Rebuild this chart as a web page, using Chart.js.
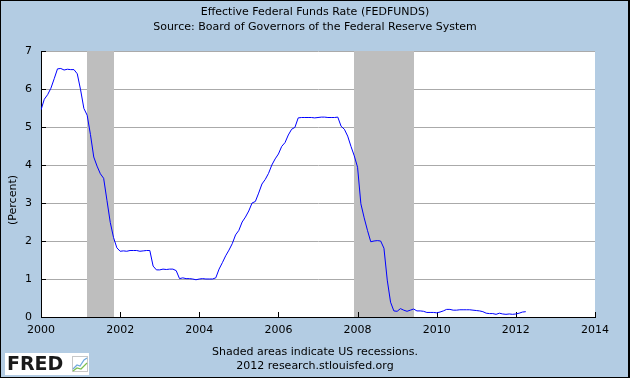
<!DOCTYPE html>
<html>
<head>
<meta charset="utf-8">
<script src="https://cdn.jsdelivr.net/npm/chart.js@4"></script>
<style>
  html, body { margin: 0; padding: 0; background: #b3cce3; }
  #wrap { width: 630px; height: 378px; }
</style>
</head>
<body>
<div id="wrap"><canvas id="myChart" width="630" height="378"></canvas></div>
<script>
// monthly effective fed funds rate, Jan 2000 .. Apr 2012
const startYear = 2000;
const fedFunds = [
  5.45, 5.73, 5.85, 6.02, 6.27, 6.53, 6.54, 6.50, 6.52, 6.51, 6.51, 6.40,
  5.98, 5.49, 5.31, 4.80, 4.21, 3.97, 3.77, 3.65, 3.07, 2.49, 2.09, 1.82,
  1.73, 1.74, 1.73, 1.75, 1.75, 1.75, 1.73, 1.74, 1.75, 1.75, 1.34, 1.24,
  1.24, 1.26, 1.25, 1.26, 1.26, 1.22, 1.01, 1.03, 1.01, 1.01, 1.00, 0.98,
  1.00, 1.01, 1.00, 1.00, 1.00, 1.03, 1.26, 1.43, 1.61, 1.76, 1.93, 2.16,
  2.28, 2.50, 2.63, 2.79, 3.00, 3.04, 3.26, 3.50, 3.62, 3.78, 4.00, 4.16,
  4.29, 4.49, 4.59, 4.79, 4.94, 4.99, 5.24, 5.25, 5.25, 5.25, 5.25, 5.24,
  5.25, 5.26, 5.26, 5.25, 5.25, 5.25, 5.26, 5.02, 4.94, 4.76, 4.49, 4.24,
  3.94, 2.98, 2.61, 2.28, 1.98, 2.00, 2.01, 2.00, 1.81, 0.97, 0.39, 0.16,
  0.15, 0.22, 0.18, 0.15, 0.18, 0.21, 0.16, 0.16, 0.15, 0.12, 0.12, 0.12,
  0.11, 0.13, 0.16, 0.20, 0.20, 0.18, 0.18, 0.19, 0.19, 0.19, 0.19, 0.18,
  0.17, 0.16, 0.14, 0.10, 0.09, 0.09, 0.07, 0.10, 0.08, 0.07, 0.08, 0.07,
  0.08, 0.10, 0.13, 0.14
];
// recessions as [start, end] in decimal years
const recessions = [[2001 + 2/12, 2001 + 10/12], [2007 + 11/12, 2009 + 5/12]];
const xTicks = [2000, 2002, 2004, 2006, 2008, 2010, 2012, 2014];
const yTicks = [0, 1, 2, 3, 4, 5, 6, 7];
const titleLines = ['Effective Federal Funds Rate (FEDFUNDS)', 'Source: Board of Governors of the Federal Reserve System'];
const footLines = ['Shaded areas indicate US recessions.', '2012 research.stlouisfed.org'];

const points = fedFunds.map((v, i) => ({ x: startYear + i / 12, y: v }));
const FONT = '"DejaVu Sans", sans-serif';

const fredDeco = {
  id: 'fredDeco',
  beforeDraw(chart) {
    const c = chart.ctx;
    c.save();
    c.fillStyle = '#b3cce3';
    c.fillRect(0, 0, chart.width, chart.height);
    const a = chart.chartArea;
    c.fillStyle = '#ffffff';
    c.fillRect(a.left, a.top, a.right - a.left, a.bottom - a.top);
    c.restore();
  },
  beforeDatasetsDraw(chart) {
    const c = chart.ctx, a = chart.chartArea, xs = chart.scales.x, ys = chart.scales.y;
    c.save();
    c.fillStyle = '#bebebe';
    recessions.forEach(r => {
      const x0 = Math.round(xs.getPixelForValue(r[0]));
      const x1 = Math.round(xs.getPixelForValue(r[1]));
      c.fillRect(x0, a.top, x1 - x0, a.bottom - a.top);
    });
    // axis line over the shading, then inward tick marks
    c.strokeStyle = '#000';
    c.lineWidth = 1;
    c.beginPath();
    const yb = Math.round(a.bottom) + 0.5;
    c.moveTo(a.left, yb); c.lineTo(a.right, yb);
    xTicks.forEach(t => {
      const x = Math.round(xs.getPixelForValue(t)) + 0.5;
      c.moveTo(x, a.bottom); c.lineTo(x, a.bottom - 5);
    });
    yTicks.forEach(t => {
      const y = Math.round(ys.getPixelForValue(t)) + 0.5;
      c.moveTo(a.left, y); c.lineTo(a.left + 5, y);
    });
    c.stroke();
    c.restore();
  },
  afterDraw(chart) {
    const c = chart.ctx, W = chart.width, H = chart.height;
    c.save();
    c.fillStyle = '#000';
    c.textAlign = 'center';
    c.textBaseline = 'middle';
    c.font = '11px ' + FONT;
    c.fillText(titleLines[0], W / 2, 12);
    c.fillText(titleLines[1], W / 2, 27);
    c.fillText(footLines[0], W / 2, 352);
    c.fillText(footLines[1], W / 2, 366);
    // y title
    c.save();
    c.translate(13, 200);
    c.rotate(-Math.PI / 2);
    c.fillText('(Percent)', 0, 0);
    c.restore();
    // FRED logo
    c.fillStyle = '#ffffff';
    c.fillRect(5, 353, 84, 22);
    c.fillStyle = '#1a1a1a';
    c.textAlign = 'left';
    c.font = 'bold 19px ' + FONT;
    c.fillText('FRED', 7, 365);
    c.strokeStyle = '#c8c8c8';
    c.strokeRect(72.5, 356.5, 15, 15);
    c.lineWidth = 1.2;
    c.strokeStyle = '#6fa8dc';
    c.beginPath(); c.moveTo(73, 369); c.lineTo(77, 365); c.lineTo(80, 366); c.lineTo(84, 360); c.lineTo(87, 358); c.stroke();
    c.strokeStyle = '#7cbf4f';
    c.beginPath(); c.moveTo(73, 371); c.lineTo(77, 368); c.lineTo(81, 369); c.lineTo(87, 363); c.stroke();
    // outer border
    c.strokeStyle = '#000';
    c.lineWidth = 1;
    c.strokeRect(0.5, 0.5, W - 1, H - 1);
    c.fillStyle = '#000';
    c.fillRect(W - 2, 0, 2, H);
    c.restore();
  }
};

const ctx = document.getElementById('myChart');

new Chart(ctx, {
  type: 'line',
  data: {
    datasets: [{
      label: 'FEDFUNDS',
      data: points,
      borderColor: '#0000ff',
      borderWidth: 1,
      pointRadius: 0,
      tension: 0,
      fill: false
    }]
  },
  options: {
    responsive: false,
    animation: false,
    events: [],
    layout: { padding: { top: 51, right: 35, left: 0, bottom: 0 } },
    plugins: {
      legend: { display: false },
      title: { display: false },
      tooltip: { enabled: false }
    },
    scales: {
      x: {
        type: 'linear',
        min: 2000,
        max: 2014,
        afterFit(scale) { scale.height = 61; },
        afterBuildTicks(scale) { scale.ticks = xTicks.map(v => ({ value: v })); },
        grid: { display: false, drawTicks: false },
        border: { color: '#000', width: 1 },
        ticks: {
          color: '#000',
          font: { family: FONT, size: 11 },
          padding: 7,
          maxRotation: 0,
          autoSkip: false,
          callback: v => String(v)
        }
      },
      y: {
        min: 0,
        max: 7,
        afterFit(scale) { scale.width = 41; },
        afterBuildTicks(scale) { scale.ticks = yTicks.map(v => ({ value: v })); },
        grid: { color: '#aaaaaa', lineWidth: 1, drawTicks: false },
        border: { color: '#000', width: 1 },
        ticks: {
          color: '#000',
          font: { family: FONT, size: 11 },
          padding: 9,
          callback: v => String(v)
        }
      }
    }
  },
  plugins: [fredDeco]
});
</script>
</body>
</html>
